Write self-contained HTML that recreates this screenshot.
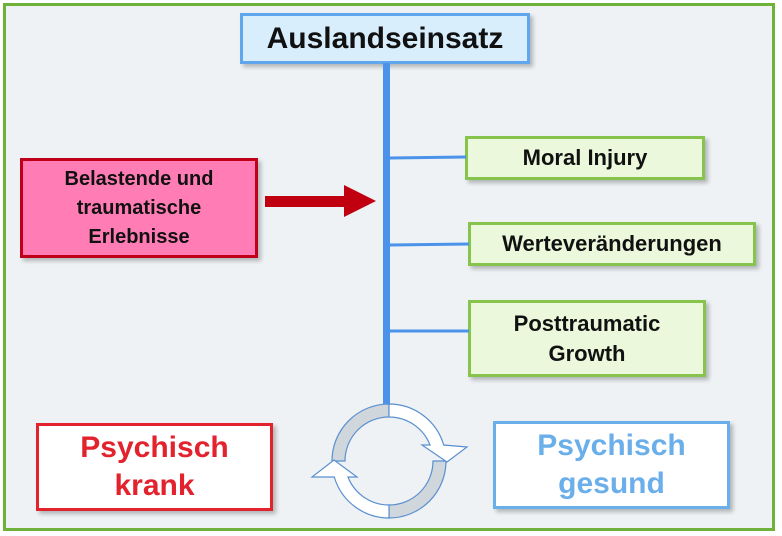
<!DOCTYPE html>
<html><head><meta charset="utf-8"><style>
body{margin:0;width:782px;height:536px;background:#fff;overflow:hidden;font-family:"Liberation Sans",sans-serif;font-weight:bold}
.frame{position:absolute;left:3px;top:3px;width:766px;height:522px;border:3px solid #6fb23a;background:#eef2f4}
.b{position:absolute;box-sizing:border-box;display:flex;align-items:center;justify-content:center;text-align:center;box-shadow:3px 3px 4px rgba(0,0,0,.25)}
.g{background:#ecf8dc;border:3px solid #86c44e;font-size:22px;color:#111}
</style></head><body>
<div class="frame"></div>
<div class="b" style="left:240px;top:13px;width:290px;height:51px;background:#d9eefc;border:3px solid #5fa6ec;font-size:30px;color:#111">Auslandseinsatz</div>
<div class="b g" style="left:465px;top:136px;width:240px;height:44px">Moral Injury</div>
<div class="b g" style="left:468px;top:222px;width:288px;height:44px">Werteveränderungen</div>
<div class="b g" style="left:468px;top:300px;width:238px;height:77px;line-height:30px">Posttraumatic<br>Growth</div>
<div class="b" style="left:20px;top:158px;width:238px;height:100px;background:#ff7cb4;border:3px solid #c00018;font-size:20px;color:#111;line-height:29px">Belastende und<br>traumatische<br>Erlebnisse</div>
<div class="b" style="left:36px;top:423px;width:237px;height:88px;background:#fff;border:3px solid #e2222c;font-size:30px;color:#e2222c;line-height:38px">Psychisch<br>krank</div>
<div class="b" style="left:493px;top:421px;width:237px;height:88px;background:#fff;border:3px solid #6aaeea;font-size:30px;color:#6aaeea;line-height:38px">Psychisch<br>gesund</div>
<svg width="782" height="536" style="position:absolute;left:0;top:0">
<rect x="383" y="63" width="7" height="343" fill="#4b92ea"/>
<g stroke="#4b92ea" stroke-width="3"><line x1="390" y1="158" x2="466" y2="157"/><line x1="390" y1="245" x2="469" y2="244"/><line x1="390" y1="331" x2="469" y2="331"/></g>
<rect x="265" y="196" width="82" height="11" fill="#c00010"/>
<polygon points="344,185 376,201 344,217" fill="#c00010"/>
<g stroke="#5a8fd0" stroke-width="1.2">
<path d="M389,404 A57,57 0 0 0 332,461 L345,461 A44,44 0 0 1 389,417 Z" fill="#cfd6dc"/>
<path d="M389,518 A57,57 0 0 0 446,461 L433,461 A44,44 0 0 1 389,505 Z" fill="#cfd6dc"/>
<path d="M389,404 A57,57 0 0 1 443.7,445 L467,447 L447,462 L422,445 L430,445 A44,44 0 0 0 389,417 Z" fill="#fff"/>
<path d="M389,518 A57,57 0 0 1 334.3,477 L312,477 L334,460 L357,477 L348,477 A44,44 0 0 0 389,505 Z" fill="#fff"/>
</g>
</svg>
</body></html>
